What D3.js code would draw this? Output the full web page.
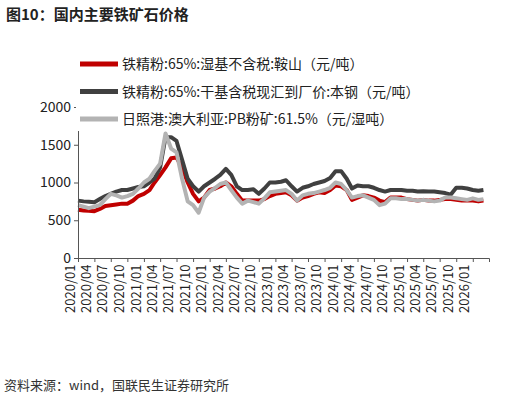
<!DOCTYPE html>
<html><head><meta charset="utf-8">
<script src="https://cdn.jsdelivr.net/npm/d3@7"></script>
<style>body{margin:0;background:#fff;font-family:"Noto Sans CJK SC","Noto Sans",sans-serif;}</style>
</head><body><div id="chart"></div>
<script>
// monthly values, 2020/01 .. 2026/03
var anshan = [640,630,625,620,650,690,700,710,720,720,760,820,
  850,900,1000,1100,1200,1320,1330,1200,1000,850,750,800,
  900,920,950,1000,950,850,760,760,760,760,780,820,
  850,860,870,830,760,800,820,850,870,860,900,960,
  950,900,770,800,830,820,800,760,740,800,800,800,
  780,770,760,770,760,760,770,780,780,770,760,760,
  760,750,760];
var benxi = [760,750,745,740,780,820,850,880,900,900,920,940,
  950,1000,1050,1200,1600,1600,1550,1300,1050,950,880,950,
  1000,1050,1100,1180,1100,950,900,900,910,850,920,1000,
  1000,1010,1030,950,880,930,950,980,1000,1020,1060,1150,
  1150,1050,920,960,950,950,930,900,880,900,900,900,
  890,890,880,885,880,880,870,860,840,930,930,920,
  900,890,900];
var rizhao = [700,680,660,680,700,780,850,830,800,820,850,920,
  1000,1050,1150,1250,1650,1450,1400,1050,750,700,600,800,
  880,930,980,1000,900,800,720,760,740,720,790,870,
  880,890,900,850,760,830,850,860,880,900,930,1000,
  980,900,800,820,830,800,770,700,720,790,790,780,
  780,770,760,770,760,750,760,800,800,790,780,770,
  790,770,780];
var yTicks = [0,500,1000,1500,2000];
var seriesNames = ["铁精粉:65%:湿基不含税:鞍山（元/吨）","铁精粉:65%:干基含税现汇到厂价:本钢（元/吨）","日照港:澳大利亚:PB粉矿:61.5%（元/湿吨）"];
var colors = ["#c00000","#404040","#b3b3b3"];

var svg = d3.select("#chart").append("svg").attr("width",516).attr("height",401);
svg.append("text").attr("x",6).attr("y",20).attr("font-size",15).attr("font-weight","bold").attr("fill","#222").text("图10：国内主要铁矿石价格");

var x = d3.scaleTime().domain([new Date(2020,0,1), new Date(2026,3,1)]).range([78,489]);
var y = d3.scaleLinear().domain([0,2000]).range([258,107]);

var months = anshan.map(function(d,i){ return new Date(2020, i, 1); });
var line = d3.line().x(function(d,i){ return x(months[i]); }).y(function(d){ return y(d); });
[anshan, benxi, rizhao].forEach(function(s,k){
  svg.append("path").datum(s).attr("d",line).attr("fill","none")
    .attr("stroke",colors[k]).attr("stroke-width",4).attr("stroke-linejoin","round");
});

var yAxis = svg.append("g").attr("transform","translate(78,0)")
  .call(d3.axisLeft(y).tickValues(yTicks).tickSize(4).tickFormat(d3.format("d")));
var xTicks = d3.timeMonth.range(new Date(2020,0,1), new Date(2026,1,1), 3);
var xAxis = svg.append("g").attr("transform","translate(0,258)")
  .call(d3.axisBottom(x).tickValues(xTicks).tickSize(4).tickFormat(d3.timeFormat("%Y/%m")));
[yAxis,xAxis].forEach(function(a){
  a.selectAll("path,line").attr("stroke","#555");
  a.selectAll("text").attr("font-size",14).attr("fill","#222").attr("font-family","Noto Sans CJK SC");
});
xAxis.selectAll("text").attr("font-size",13).attr("transform","rotate(-90)").attr("text-anchor","end")
  .attr("dx","-0.5em").attr("dy","-0.45em").attr("x",0).attr("y",2);

var leg = svg.append("g");
seriesNames.forEach(function(n,i){
  var yy = 64 + i*27.5;
  if(i==2) leg.append("rect").attr("x",76).attr("y",yy-12).attr("width",430).attr("height",24).attr("fill","#fff");
  leg.append("line").attr("x1",80).attr("x2",118).attr("y1",yy).attr("y2",yy).attr("stroke",colors[i]).attr("stroke-width",5);
  leg.append("text").attr("x",122).attr("y",yy+5).attr("font-size",14).attr("fill","#222").text(n);
});

svg.append("text").attr("x",4).attr("y",390).attr("font-size",13).attr("fill","#333").text("资料来源：wind，国联民生证券研究所");
</script></body></html>
